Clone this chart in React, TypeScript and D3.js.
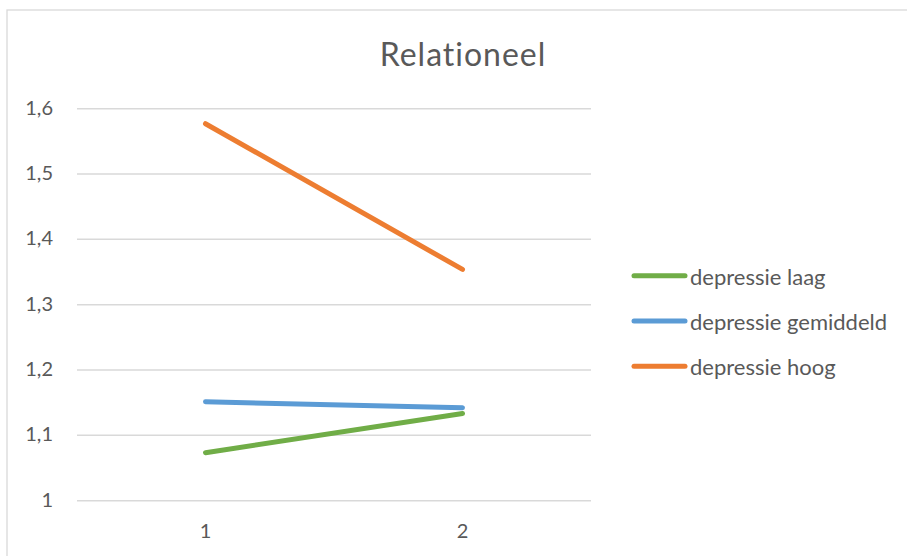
import React from "react";
import * as d3 from "d3";

const categories = ["1", "2"];
const seriesNames = ["depressie laag", "depressie gemiddeld", "depressie hoog"];
const laag = [1.0734, 1.1336];
const gemiddeld = [1.1514, 1.1422];
const hoog = [1.577, 1.354];
const yTicks = [1, 1.1, 1.2, 1.3, 1.4, 1.5, 1.6];
const colors = ["#70AD47", "#5B9BD5", "#ED7D31"];
const title = "Relationeel";

export default function App() {
  const W = 907, H = 556;
  const plot = { left: 77, right: 591, top: 108.7, bottom: 500.7 };
  const x = d3.scaleBand<string>().domain(categories).range([plot.left, plot.right]);
  const y = d3.scaleLinear().domain([1, 1.6]).range([plot.bottom, plot.top]);
  const line = d3
    .line<number>()
    .x((_, i) => (x(categories[i]) as number) + x.bandwidth() / 2)
    .y((d) => y(d));
  const series = [laag, gemiddeld, hoog];
  const font = "Lato, 'Liberation Sans', sans-serif";
  const fmt = (v: number) => (v === 1 ? "1" : v.toFixed(1).replace(".", ","));
  const drawOrder = [2, 1, 0];
  return (
    <svg width={W} height={H} style={{ position: "absolute", left: 0, top: 0 }} fontFamily={font}>
      <rect x={0} y={0} width={W} height={H} fill="#fff" />
      <rect x={7} y={10} width={W + 20} height={H + 20} fill="#fff" stroke="#D9D9D9" strokeWidth={1.3} />
      <text x={463} y={66} textAnchor="middle" fontSize={32} letterSpacing={1} fill="#595959">{title}</text>
      {yTicks.map((t) => (
        <g key={t}>
          <line x1={plot.left} x2={plot.right} y1={y(t)} y2={y(t)} stroke="#D9D9D9" strokeWidth={1.5} />
          <text x={53} y={y(t)} dy="0.3em" textAnchor="end" fontSize={20} fill="#595959">{fmt(t)}</text>
        </g>
      ))}
      {categories.map((c) => (
        <text key={c} x={(x(c) as number) + x.bandwidth() / 2} y={538} textAnchor="middle" fontSize={20} fill="#595959">{c}</text>
      ))}
      {drawOrder.map((i) => (
        <path key={i} d={line(series[i]) || ""} fill="none" stroke={colors[i]} strokeWidth={5} strokeLinecap="round" />
      ))}
      {seriesNames.map((n, i) => {
        const ly = 275.7 + i * 45.3;
        return (
          <g key={n}>
            <line x1={634} x2={685} y1={ly} y2={ly} stroke={colors[i]} strokeWidth={5} strokeLinecap="round" />
            <text x={690} y={ly} dy="0.4em" fontSize={22} fill="#595959">{n}</text>
          </g>
        );
      })}
    </svg>
  );
}
